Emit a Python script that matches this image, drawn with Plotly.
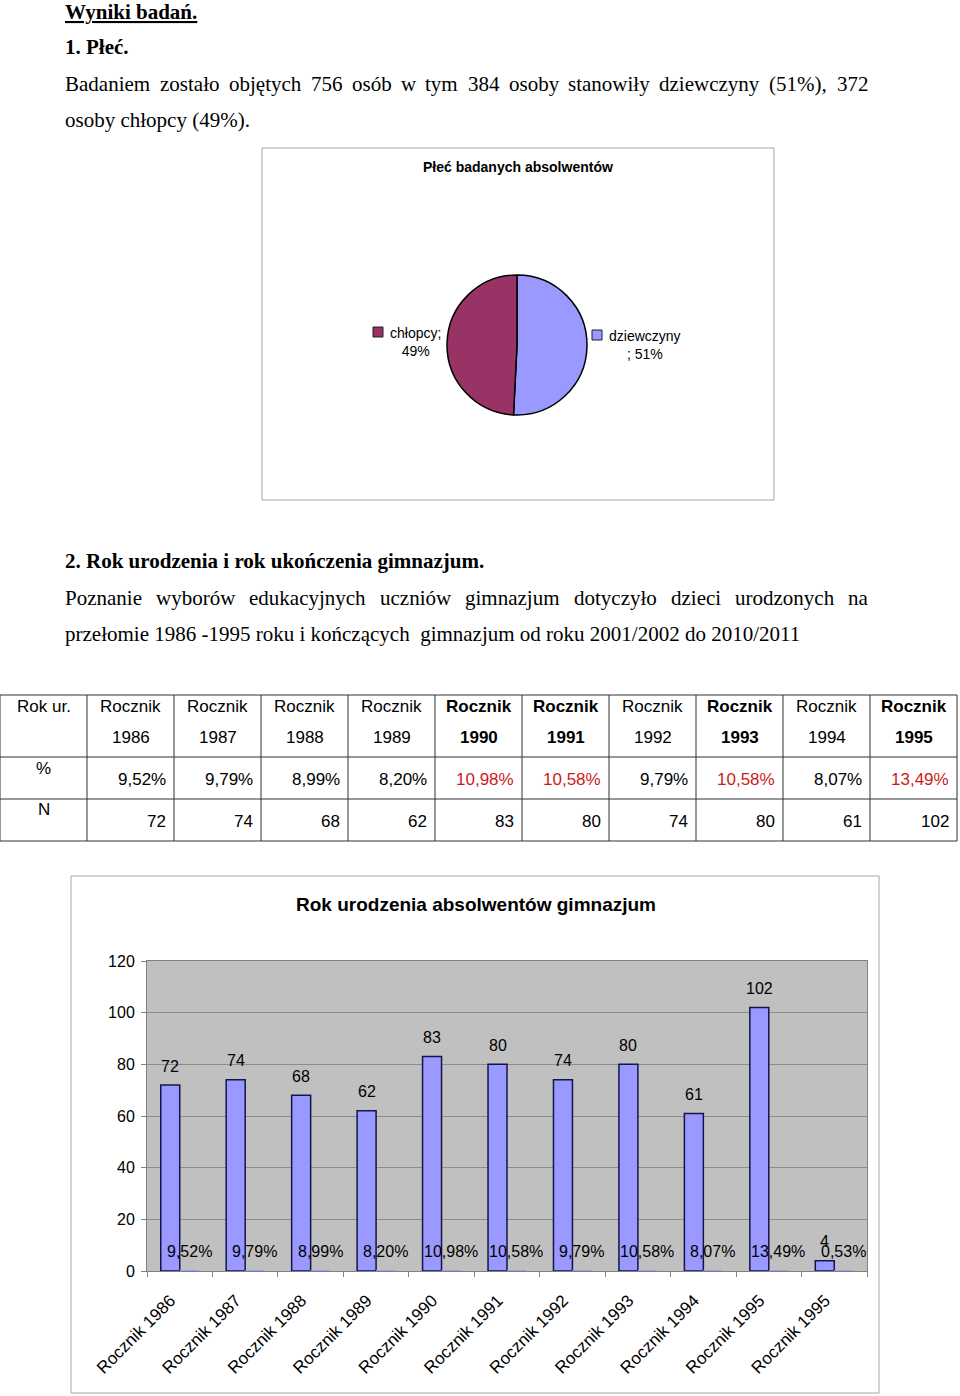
import plotly.graph_objects as go

W, H = 960, 1396


def px(x):
    return x / W


def py(y):
    return 1 - y / H


SERIF = "Liberation Serif, Times New Roman, serif"
SANS = "Liberation Sans, Arial, sans-serif"

# ---------------- data ----------------
gender_labels = ["dziewczyny", "chłopcy"]
gender_counts = [384, 372]
gender_pct = [51, 49]
gender_colors = ["#9999FF", "#993366"]

years = [1986, 1987, 1988, 1989, 1990, 1991, 1992, 1993, 1994, 1995]
year_pct = [9.52, 9.79, 8.99, 8.20, 10.98, 10.58, 9.79, 10.58, 8.07, 13.49]
year_counts = [72, 74, 68, 62, 83, 80, 74, 80, 61, 102]
highlight = [False, False, False, False, True, True, False, True, False, True]

chart_cats = [f"Rocznik {y}" for y in years] + ["Rocznik 1995"]
chart_counts = year_counts + [4]
chart_pct = year_pct + [0.53]

y_ticks = [0, 20, 40, 60, 80, 100, 120]


def fmt_pct(v):
    return f"{v:.2f}".replace(".", ",") + "%"


fig = go.Figure()
annotations = []
shapes = []

# ---------------- body text ----------------
# Times / Liberation Serif advance widths (1/1000 em) used for justified lines
TW = {"a": 444, "b": 500, "c": 444, "d": 500, "e": 444, "f": 333, "g": 500, "h": 500, "i": 278,
      "j": 278, "k": 500, "l": 278, "m": 778, "n": 500, "o": 500, "p": 500, "r": 333, "s": 389,
      "t": 278, "u": 500, "w": 722, "y": 500, "z": 444, "B": 667, "P": 556, "(": 333, ")": 333,
      "%": 833, ",": 250, "ł": 278, "ó": 500, "ę": 444, "ń": 500, "ą": 444, "ć": 444, "-": 333,
      "/": 278, ".": 250}
BODY_SIZE = 21
LEFT, RIGHT = 65, 868


def word_w(wd):
    return sum(TW.get(ch, 500) for ch in wd) / 1000 * BODY_SIZE


def add_line(txt, yy):
    annotations.append(dict(x=px(LEFT), y=py(yy), xref="paper", yref="paper", xanchor="left",
                            yanchor="middle", text=txt, showarrow=False, borderpad=0, borderwidth=0,
                            font=dict(family=SERIF, size=BODY_SIZE, color="black")))


def add_justified(txt, yy):
    words = txt.split()
    total = sum(word_w(w) for w in words)
    gap = (RIGHT - LEFT - total) / (len(words) - 1)
    x = LEFT
    for w in words:
        annotations.append(dict(x=px(x), y=py(yy), xref="paper", yref="paper", xanchor="left",
                                yanchor="middle", text=w, showarrow=False, borderpad=0, borderwidth=0,
                                font=dict(family=SERIF, size=BODY_SIZE, color="black")))
        x += word_w(w) + gap


add_line("<u><b>Wyniki badań.</b></u>", 12)
add_line("<b>1. Płeć.</b>", 47)
add_justified("Badaniem zostało objętych 756 osób w tym 384 osoby stanowiły dziewczyny (51%), 372", 84)
add_line("osoby chłopcy (49%).", 120)
add_line("<b>2. Rok urodzenia i rok ukończenia gimnazjum.</b>", 561)
add_justified("Poznanie wyborów edukacyjnych uczniów gimnazjum dotyczyło dzieci urodzonych na", 598)
add_line("przełomie 1986 -1995 roku i kończących  gimnazjum od roku 2001/2002 do 2010/2011", 634)

# ---------------- pie chart ----------------
shapes.append(dict(type="rect", xref="paper", yref="paper", x0=px(262), x1=px(774),
                   y0=py(500), y1=py(148), line=dict(color="#A6A6A6", width=1)))
annotations.append(dict(x=px(518), y=py(167), xref="paper", yref="paper", text="<b>Płeć badanych absolwentów</b>",
                        showarrow=False, font=dict(family=SANS, size=14, color="black"),
                        xanchor="center", yanchor="middle"))
fig.add_trace(go.Pie(labels=gender_labels, values=gender_counts, sort=False, direction="clockwise",
                     rotation=0, textinfo="none", hoverinfo="label+percent",
                     marker=dict(colors=gender_colors, line=dict(color="black", width=1.5)),
                     domain=dict(x=[px(447), px(587)], y=[py(415), py(275)]), showlegend=False))
# pie labels with colour keys
pie_label_pos = {"chłopcy": (415, 342, 373, 332), "dziewczyny": (645, 345, 592, 335)}
for lab, pc, col in zip(gender_labels, gender_pct, gender_colors):
    tx, ty, sx, sy = pie_label_pos[lab]
    if lab == "chłopcy":
        txt = f"{lab};<br>{pc}%"
    else:
        txt = f"{lab}<br>; {pc}%"
    annotations.append(dict(x=px(tx), y=py(ty), xref="paper", yref="paper", text=txt, showarrow=False,
                            font=dict(family=SANS, size=14, color="black"), xanchor="center", yanchor="middle"))
    shapes.append(dict(type="rect", xref="paper", yref="paper", x0=px(sx), x1=px(sx + 10),
                       y0=py(sy + 5), y1=py(sy - 5), fillcolor=col, line=dict(color="#222222", width=1)))

# ---------------- table ----------------
col_w = 87
tbl_top, tbl_h1, tbl_h2, tbl_bot = 695, 757, 799, 841
tbl_right = col_w * (len(years) + 1)
for yy in [tbl_top, tbl_h1, tbl_h2, tbl_bot]:
    shapes.append(dict(type="line", xref="paper", yref="paper", x0=px(0), x1=px(tbl_right),
                       y0=py(yy), y1=py(yy), line=dict(color="#333333", width=1)))
for k in range(len(years) + 2):
    xx = k * col_w
    shapes.append(dict(type="line", xref="paper", yref="paper", x0=px(xx), x1=px(xx),
                       y0=py(tbl_top), y1=py(tbl_bot), line=dict(color="#333333", width=1)))

tfont = dict(family=SANS, size=17, color="black")
for txt, yy in [("Rok ur.", 706), ("%", 768), ("N", 810)]:
    annotations.append(dict(x=px(col_w / 2), y=py(yy), xref="paper", yref="paper", text=txt,
                            showarrow=False, font=tfont, xanchor="center", yanchor="middle"))
for i, (yr, pc, n, hl) in enumerate(zip(years, year_pct, year_counts, highlight)):
    x0 = (i + 1) * col_w
    cx = x0 + col_w / 2
    rx = x0 + col_w - 6
    w = "<b>%s</b>" if hl else "%s"
    annotations.append(dict(x=px(cx), y=py(706), xref="paper", yref="paper", text=w % "Rocznik",
                            showarrow=False, font=tfont, xanchor="center", yanchor="middle"))
    annotations.append(dict(x=px(cx), y=py(737), xref="paper", yref="paper", text=w % str(yr),
                            showarrow=False, font=tfont, xanchor="center", yanchor="middle"))
    annotations.append(dict(x=px(rx), y=py(779), xref="paper", yref="paper", text=fmt_pct(pc),
                            showarrow=False, xanchor="right", yanchor="middle",
                            font=dict(family=SANS, size=17, color="#CC1A1A" if hl else "black")))
    annotations.append(dict(x=px(rx), y=py(821), xref="paper", yref="paper", text=str(n),
                            showarrow=False, font=tfont, xanchor="right", yanchor="middle"))

# ---------------- bar chart ----------------
shapes.append(dict(type="rect", xref="paper", yref="paper", x0=px(71), x1=px(879),
                   y0=py(1393), y1=py(876), line=dict(color="#A6A6A6", width=1)))
annotations.append(dict(x=px(476), y=py(904), xref="paper", yref="paper",
                        text="<b>Rok urodzenia absolwentów gimnazjum</b>", showarrow=False,
                        font=dict(family=SANS, size=19, color="black"), xanchor="center", yanchor="middle"))

bargap = 0.42
xs = list(range(len(chart_cats)))
fig.add_trace(go.Bar(x=xs, y=chart_counts, xaxis="x", yaxis="y", showlegend=False,
                     marker=dict(color="#9999FF", line=dict(color="#14144a", width=1.5))))
fig.add_trace(go.Bar(x=xs, y=[p / 100 for p in chart_pct], xaxis="x", yaxis="y", showlegend=False,
                     marker=dict(color="#9999FF", line=dict(width=0))))
off = (1 - bargap) / 4
lfont = dict(family=SANS, size=16, color="black")
for x, n, p in zip(xs, chart_counts, chart_pct):
    annotations.append(dict(x=x - off, y=n, xref="x", yref="y", text=str(n), showarrow=False,
                            font=lfont, xanchor="center", yanchor="middle", yshift=19))
    annotations.append(dict(x=x + off, y=p / 100, xref="x", yref="y", text=fmt_pct(p), showarrow=False,
                            font=lfont, xanchor="center", yanchor="middle", yshift=19))

fig.update_layout(
    width=W, height=H, margin=dict(l=0, r=0, t=0, b=0, autoexpand=False), paper_bgcolor="white",
    plot_bgcolor="#C0C0C0", barmode="group", bargap=bargap, bargroupgap=0,
    showlegend=False, annotations=annotations, shapes=shapes,
    xaxis=dict(domain=[px(147), px(867)], range=[-0.5, len(xs) - 0.5], tickmode="array",
               tickvals=[x - 0.14 for x in xs], ticktext=chart_cats, tickangle=-45, ticks="", showgrid=False,
               zeroline=False, showline=True, linecolor="#808080", mirror=True, automargin=False,
               tickfont=dict(family=SANS, size=17, color="black"), ticklabelstandoff=12,
               minor=dict(tickmode="array", tickvals=[x - 0.5 for x in range(len(xs) + 1)],
                          ticks="outside", ticklen=5, tickcolor="#808080", showgrid=False)),
    yaxis=dict(domain=[py(1271), py(961)], range=[0, 120], tickmode="array", tickvals=y_ticks,
               ticks="outside", ticklen=5, tickcolor="#808080", showgrid=True, gridcolor="#8C8C8C",
               gridwidth=1, zeroline=False, showline=True, linecolor="#808080", mirror=True,
               automargin=False, ticklabelstandoff=3,
               tickfont=dict(family=SANS, size=16, color="black")),
)

fig.write_html("out.html")
